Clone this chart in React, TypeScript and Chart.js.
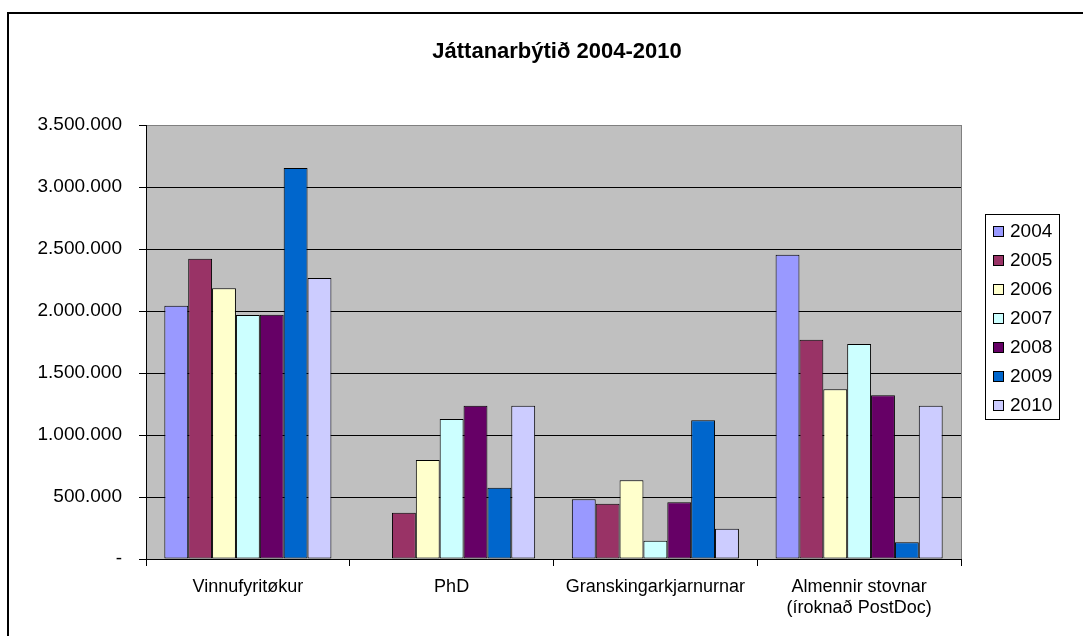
import React, { useEffect, useRef } from 'react';
import { Chart, registerables } from 'chart.js';

Chart.register(...registerables);

const FONT = 'Arial, "Liberation Sans", Helvetica, sans-serif';

const chartTitle = 'Játtanarbýtið 2004-2010';

const categories: (string | string[])[] = [
  'Vinnufyritøkur',
  'PhD',
  'Granskingarkjarnurnar',
  ['Almennir stovnar', '(íroknað PostDoc)'],
];

const years = ['2004', '2005', '2006', '2007', '2008', '2009', '2010'];
const colors = ['#9999FF', '#993366', '#FFFFCC', '#CCFFFF', '#660066', '#0066CC', '#CCCCFF'];

const v2004 = [2043000, null, 481000, 2454000];
const v2005 = [2422000, 373000, 446000, 1769000];
const v2006 = [2183000, 798000, 635000, 1368000];
const v2007 = [1968000, 1129000, 148000, 1734000];
const v2008 = [1970000, 1236000, 457000, 1320000];
const v2009 = [3153000, 575000, 1118000, 135000];
const v2010 = [2266000, 1236000, 244000, 1236000];
const seriesValues = [v2004, v2005, v2006, v2007, v2008, v2009, v2010];

const yMin = 0;
const yMax = 3500000;
const yStep = 500000;
const yTickLabels: Record<number, string> = {
  0: '-',
  500000: '500.000',
  1000000: '1.000.000',
  1500000: '1.500.000',
  2000000: '2.000.000',
  2500000: '2.500.000',
  3000000: '3.000.000',
  3500000: '3.500.000',
};

const decor = {
  id: 'decor',
  beforeDraw(chart: any) {
    const { ctx, chartArea: a } = chart;
    ctx.save();
    ctx.fillStyle = '#ffffff';
    ctx.fillRect(0, 0, chart.width, chart.height);
    ctx.fillStyle = '#C0C0C0';
    ctx.fillRect(a.left, a.top, a.right - a.left, a.bottom - a.top);
    // outer frame
    ctx.strokeStyle = '#000';
    ctx.lineWidth = 2;
    ctx.beginPath();
    ctx.moveTo(8, chart.height + 10);
    ctx.lineTo(8, 13);
    ctx.lineTo(chart.width + 10, 13);
    ctx.stroke();
    // right border of plot
    ctx.strokeStyle = '#808080';
    ctx.lineWidth = 1;
    ctx.beginPath();
    ctx.moveTo(Math.round(a.right) + 0.5, a.top);
    ctx.lineTo(Math.round(a.right) + 0.5, a.bottom);
    ctx.stroke();
    ctx.restore();
  },
  afterDraw(chart: any) {
    const { ctx } = chart;
    ctx.save();
    // title
    ctx.fillStyle = '#000';
    ctx.font = `bold 22px ${FONT}`;
    ctx.textAlign = 'center';
    ctx.textBaseline = 'middle';
    ctx.fillText(chartTitle, 557, 52);
    // legend
    ctx.strokeStyle = '#000';
    ctx.lineWidth = 1;
    ctx.strokeRect(985.5, 214.5, 74, 205);
    ctx.font = `19px ${FONT}`;
    ctx.textAlign = 'left';
    chart.data.datasets.forEach((ds: any, i: number) => {
      const cy = 230.5 + i * 29.1;
      const y0 = Math.round(cy - 5) + 0.5;
      ctx.fillStyle = ds.backgroundColor;
      ctx.fillRect(993.5, y0, 10, 10);
      ctx.strokeRect(993.5, y0, 10, 10);
      ctx.fillStyle = '#000';
      ctx.fillText(ds.label, 1010, cy + 1);
    });
    ctx.restore();
  },
};

export default function App() {
  const ref = useRef<HTMLCanvasElement | null>(null);
  useEffect(() => {
    if (!ref.current) return;
    Chart.defaults.font.family = FONT;
    const chart = new Chart(ref.current, {
      type: 'bar',
      data: {
        labels: categories,
        datasets: years.map((y, i) => ({
          label: y,
          data: seriesValues[i],
          backgroundColor: colors[i],
          borderColor: '#000',
          borderWidth: 1,
          borderSkipped: false,
          categoryPercentage: 0.82,
          barPercentage: 1.0,
        })),
      },
      options: {
        responsive: false,
        animation: false,
        layout: { padding: { left: 0, right: 122, top: 125, bottom: 0 } },
        plugins: {
          legend: { display: false },
          title: { display: false },
          tooltip: { enabled: false },
        },
        scales: {
          x: {
            afterFit: (s: any) => { s.height = 77; },
            ticks: {
              color: '#000',
              font: { size: 18, family: FONT },
              padding: 10,
              maxRotation: 0,
              autoSkip: false,
            },
            grid: { drawOnChartArea: false, tickLength: 7, color: '#000', offset: true },
            border: { color: '#000', width: 1 },
          },
          y: {
            min: yMin,
            max: yMax,
            afterFit: (s: any) => { s.width = 146; },
            ticks: {
              stepSize: yStep,
              color: '#000',
              font: { size: 19, family: FONT },
              padding: 17,
              callback: (v: any) => yTickLabels[Number(v)] ?? String(v),
            },
            grid: {
              color: (c: any) => (c.tick && c.tick.value === yMax ? '#808080' : '#000'),
              tickColor: '#000',
              tickLength: 7,
              lineWidth: 1,
            },
            border: { color: '#000', width: 1 },
          },
        },
      },
      plugins: [decor],
    } as any);
    return () => chart.destroy();
  }, []);
  return (
    <div style={{ position: 'fixed', left: 0, top: 0, width: 1083, height: 636, overflow: 'hidden', background: '#fff' }}>
      <canvas ref={ref} width={1083} height={636} style={{ display: 'block' }} />
    </div>
  );
}
